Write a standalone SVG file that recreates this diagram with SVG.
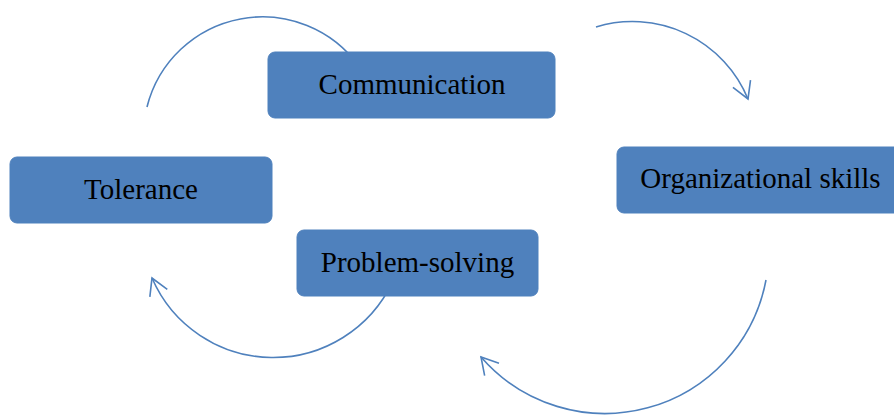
<svg xmlns="http://www.w3.org/2000/svg" width="894" height="415" viewBox="0 0 894 415">
  <style>
    .box { fill: #4F81BD; stroke: #4F81BD; stroke-width: 1; }
    .lbl { font-family: "Liberation Serif", "Times New Roman", serif; font-size: 29px; fill: #000; text-anchor: middle; }
    .arc { fill: none; stroke: #4F81BD; stroke-width: 1.6; }
  </style>
  <defs>
    <marker id="vee" markerUnits="userSpaceOnUse" markerWidth="24" markerHeight="24" viewBox="-20 -12 24 24" refX="0" refY="0" orient="auto">
      <path d="M -16.5,-9.5 L 0,0 L -16.5,9.5" fill="none" stroke="#4F81BD" stroke-width="1.6"/>
    </marker>
  </defs>
  <g id="connectors">
    <path class="arc" d="M 147,107 A 119 119 0 0 1 359.5,67"/>
    <path class="arc" d="M 596,27 A 125 125 0 0 1 748,99" marker-end="url(#vee)"/>
    <path class="arc" d="M 766,280 A 164 164 0 0 1 481,357" marker-end="url(#vee)"/>
    <path class="arc" d="M 392.6,281.6 A 132 132 0 0 1 152,278" marker-end="url(#vee)"/>
  </g>
  <g id="communication">
    <rect class="box" x="268" y="52" width="287" height="66" rx="7"/>
    <text class="lbl" x="412" y="94">Communication</text>
  </g>
  <g id="organizational-skills">
    <rect class="box" x="617" y="147" width="287" height="66" rx="7"/>
    <text class="lbl" x="760.5" y="188">Organizational skills</text>
  </g>
  <g id="tolerance">
    <rect class="box" x="10" y="157" width="262" height="66" rx="7"/>
    <text class="lbl" x="141" y="199">Tolerance</text>
  </g>
  <g id="problem-solving">
    <rect class="box" x="297" y="230" width="241" height="66" rx="7"/>
    <text class="lbl" x="417.5" y="272">Problem-solving</text>
  </g>
</svg>
